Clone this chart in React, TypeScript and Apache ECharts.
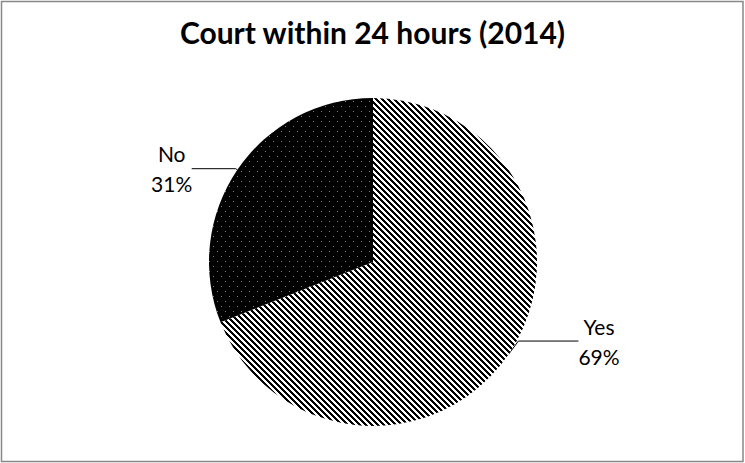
import React, { useEffect, useRef } from "react";
import * as echarts from "echarts";

const titleText = "Court within 24 hours (2014)";
const categories = ["Yes", "No"];
const values = [69, 31];

function makeStripe(): HTMLCanvasElement {
  const c = document.createElement("canvas");
  const n = 6;
  c.width = n;
  c.height = n;
  const ctx = c.getContext("2d")!;
  const img = ctx.createImageData(n, n);
  for (let y = 0; y < n; y++) {
    for (let x = 0; x < n; x++) {
      const k = (((x - y) % n) + n) % n;
      const black = k < 3;
      const i = (y * n + x) * 4;
      const v = black ? 0 : 255;
      img.data[i] = v;
      img.data[i + 1] = v;
      img.data[i + 2] = v;
      img.data[i + 3] = 255;
    }
  }
  ctx.putImageData(img, 0, 0);
  return c;
}

function makeDots(): HTMLCanvasElement {
  const c = document.createElement("canvas");
  const w = 8;
  const h = 10;
  c.width = w;
  c.height = h;
  const ctx = c.getContext("2d")!;
  ctx.fillStyle = "#000";
  ctx.fillRect(0, 0, w, h);
  ctx.fillStyle = "#808080";
  ctx.fillRect(1, 1, 1, 1);
  ctx.fillRect(5, 6, 1, 1);
  return c;
}

export default function App() {
  const ref = useRef<HTMLDivElement>(null);
  useEffect(() => {
    document.body.style.margin = "0";
    if (!ref.current) return;
    const chart = echarts.init(ref.current, undefined, { renderer: "svg" });
    const stripe = makeStripe();
    const dots = makeDots();
    const fills = [
      { image: stripe, repeat: "repeat" },
      { image: dots, repeat: "repeat" },
    ];
    const lines = [
      { length: 6, length2: 60 },
      { length: 2, length2: 44 },
    ];
    chart.setOption({
      animation: false,
      backgroundColor: "#fff",
      title: {
        text: titleText,
        left: "center",
        top: 12,
        textStyle: {
          fontFamily: "Lato",
          fontWeight: "bold",
          fontSize: 30,
          color: "#000",
        },
      },
      graphic: [
        {
          type: "rect",
          shape: { x: 1.5, y: 1.5, width: 741.5, height: 460 },
          style: { fill: "none", stroke: "#888", lineWidth: 1.5 },
          silent: true,
        },
      ],
      series: [
        {
          type: "pie",
          center: [373, 262],
          radius: 164,
          startAngle: 90,
          clockwise: true,
          avoidLabelOverlap: false,
          itemStyle: { borderWidth: 0 },
          label: {
            show: true,
            position: "outside",
            formatter: "{t|{b}}\n{t|{c}%}",
            distanceToLabelLine: 0,
            rich: {
              t: {
                fontFamily: "Lato",
                fontSize: 21,
                lineHeight: 30,
                width: 40,
                align: "center",
                color: "#000",
              },
            },
          },
          labelLine: {
            show: true,
            lineStyle: { color: "#000", width: 1 },
          },
          labelLayout: (params: any) =>
            params.dataIndex === 0
              ? {
                  x: params.labelRect.x + 6,
                  y: params.labelRect.y - 21,
                  align: "left",
                  verticalAlign: "top",
                }
              : {},
          emphasis: { disabled: true },
          data: categories.map((name, i) => ({
            name,
            value: values[i],
            itemStyle: { color: fills[i] },
            labelLine: lines[i],
          })),
        },
      ],
    });
    return () => chart.dispose();
  }, []);
  return <div ref={ref} style={{ width: 745, height: 463 }} />;
}
